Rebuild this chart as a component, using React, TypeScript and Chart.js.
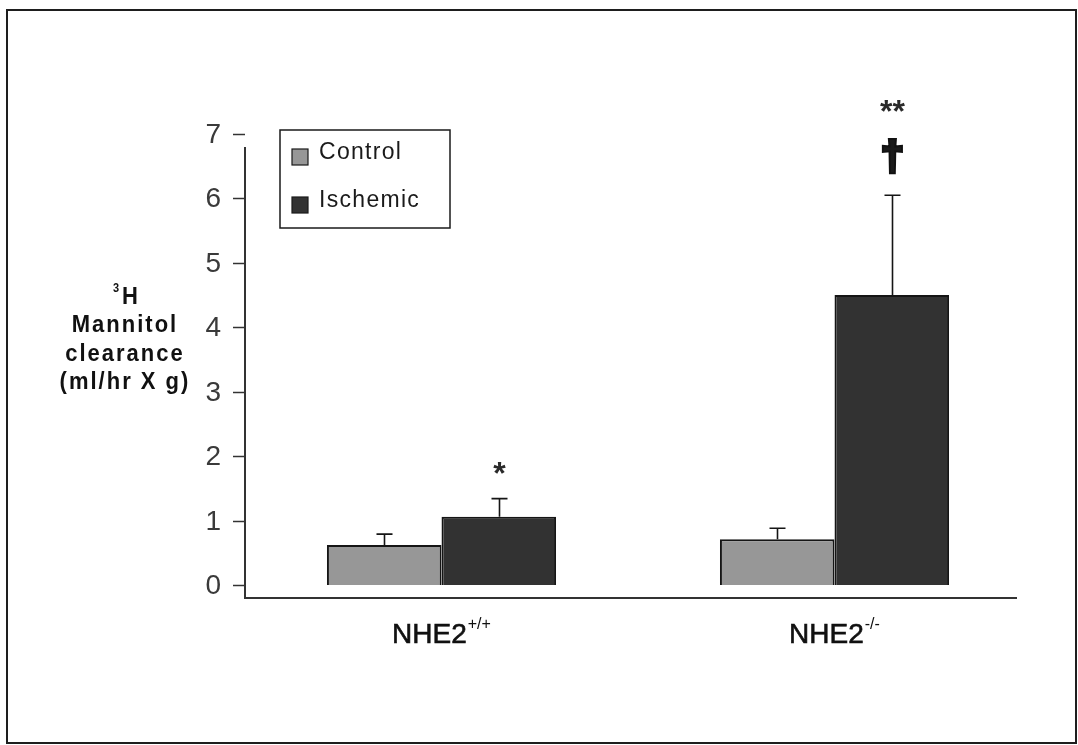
import React, { useEffect, useRef } from "react";
import { Chart, registerables } from "chart.js";

Chart.register(...registerables);

// ---- data ----
const categories = ["NHE2+/+", "NHE2-/-"];
const categoryBase = ["NHE2", "NHE2"];
const categorySup = ["+/+", "-/-"];
const seriesNames = ["Control", "Ischemic"];
const controlValues = [0.62, 0.71];
const ischemicValues = [1.06, 4.5];
const controlErrors = [0.17, 0.17];
const ischemicErrors = [0.28, 1.55];
const controlMarks = ["", ""];
const ischemicMarks = ["*", "**"];
const controlDaggers = ["", ""];
const ischemicDaggers = ["", "†"];
const yTicks = [0, 1, 2, 3, 4, 5, 6, 7];
const yTitleIsotope = "3";
const yTitleLines = ["H", "Mannitol", "clearance", "(ml/hr X g)"];

// ---- styles ----
const FONT = '"Liberation Sans", Arial, Helvetica, sans-serif';
const COLORS = ["#979797", "#323232"];
const EDGE = "#151515";

const errors = [controlErrors, ischemicErrors];
const marks = [controlMarks, ischemicMarks];
const daggers = [controlDaggers, ischemicDaggers];

function setSpacing(ctx: any, v: string) {
  try {
    ctx.letterSpacing = v;
  } catch (e) {}
}

const decorPlugin = {
  id: "decor",
  beforeDraw(chart: any) {
    const ctx = chart.ctx;
    ctx.save();
    ctx.fillStyle = "#ffffff";
    ctx.fillRect(0, 0, chart.width, chart.height);
    ctx.restore();
  },
  afterDatasetsDraw(chart: any) {
    const ctx = chart.ctx;
    const y = chart.scales.y;
    ctx.save();
    chart.data.datasets.forEach((ds: any, di: number) => {
      const meta = chart.getDatasetMeta(di);
      meta.data.forEach((bar: any, i: number) => {
        const v = ds.data[i];
        const err = errors[di][i];
        const top = y.getPixelForValue(v);
        const cap = y.getPixelForValue(v + err);
        const cx = Math.round(bar.x) + 0.5;
        ctx.strokeStyle = EDGE;
        ctx.lineWidth = 1.6;
        ctx.beginPath();
        ctx.moveTo(cx, top);
        ctx.lineTo(cx, cap);
        ctx.moveTo(cx - 8, cap);
        ctx.lineTo(cx + 8, cap);
        ctx.stroke();
        const m = marks[di][i];
        const dg = daggers[di][i];
        ctx.fillStyle = "#1a1a1a";
        ctx.textAlign = "center";
        ctx.textBaseline = "alphabetic";
        if (dg) {
          ctx.font = `bold 41px ${FONT}`;
          ctx.strokeStyle = "#111111";
          ctx.lineWidth = 3.8;
          ctx.lineJoin = "miter";
          ctx.strokeText(dg, cx, cap - 39 + 14);
          ctx.fillText(dg, cx, cap - 39 + 14);
        }
        if (m) {
          ctx.font = `bold 32px ${FONT}`;
          ctx.fillStyle = "#2a2a2a";
          const centerY = cap - (dg ? 92 : 34);
          ctx.fillText(m, cx, centerY + 19);
        }
      });
    });
    ctx.restore();
  },
  afterDraw(chart: any) {
    const ctx = chart.ctx;
    const { chartArea } = chart;
    const x = chart.scales.x;
    const y = chart.scales.y;
    ctx.save();
    // outer frame
    ctx.strokeStyle = "#1e1e1e";
    ctx.lineWidth = 2;
    ctx.strokeRect(7, 10, 1069, 733);

    // axes
    const axisX = chartArea.left;
    const zeroY = y.getPixelForValue(0);
    const axisBottom = zeroY + 13;
    const axisTop = y.getPixelForValue(yTicks[yTicks.length - 1]) + 13;
    ctx.strokeStyle = "#333333";
    ctx.lineWidth = 2;
    ctx.beginPath();
    ctx.moveTo(axisX, axisTop);
    ctx.lineTo(axisX, axisBottom);
    ctx.lineTo(chartArea.right - 14, axisBottom);
    ctx.stroke();

    // y ticks
    ctx.lineWidth = 1.5;
    ctx.fillStyle = "#3a3a3a";
    ctx.font = `28px ${FONT}`;
    ctx.textAlign = "right";
    ctx.textBaseline = "middle";
    yTicks.forEach((v) => {
      const py = Math.round(y.getPixelForValue(v)) + 0.5;
      ctx.beginPath();
      ctx.moveTo(axisX - 12, py);
      ctx.lineTo(axisX, py);
      ctx.stroke();
      ctx.fillText(String(v), axisX - 24, py + 1);
    });

    // y title (bold, spaced)
    ctx.fillStyle = "#111111";
    ctx.textAlign = "center";
    ctx.textBaseline = "middle";
    const titleX = 125;
    const lineYs = [297, 325, 354, 382];
    yTitleLines.forEach((t, i) => {
      ctx.save();
      ctx.translate(titleX + (i === 0 ? 6 : 0), lineYs[i]);
      ctx.scale(1, 1.08);
      ctx.font = `bold 22px ${FONT}`;
      setSpacing(ctx, "2px");
      ctx.fillText(t, 0, 0);
      if (i === 0) {
        const w = ctx.measureText(t).width;
        setSpacing(ctx, "0px");
        ctx.font = `bold 11px ${FONT}`;
        ctx.fillText(yTitleIsotope, -w / 2 - 6, -8);
      }
      setSpacing(ctx, "0px");
      ctx.restore();
    });

    // x labels
    categories.forEach((_, i) => {
      const cx = x.getPixelForValue(i);
      ctx.font = `28px ${FONT}`;
      const wb = ctx.measureText(categoryBase[i]).width;
      ctx.font = `16px ${FONT}`;
      const ws = ctx.measureText(categorySup[i]).width;
      const startX = cx - (wb + ws + 1) / 2;
      ctx.textAlign = "left";
      ctx.textBaseline = "alphabetic";
      ctx.fillStyle = "#111111";
      ctx.strokeStyle = "#111111";
      ctx.lineWidth = 0.6;
      ctx.font = `28px ${FONT}`;
      ctx.fillText(categoryBase[i], startX, 643);
      ctx.strokeText(categoryBase[i], startX, 643);
      ctx.font = `16px ${FONT}`;
      ctx.fillText(categorySup[i], startX + wb + 1, 629);
    });

    // legend
    ctx.strokeStyle = "#1a1a1a";
    ctx.lineWidth = 1.5;
    ctx.strokeRect(280, 130, 170, 98);
    const legendYs = [159, 207];
    seriesNames.forEach((name, i) => {
      ctx.fillStyle = COLORS[i];
      ctx.fillRect(292, legendYs[i] - 10, 16, 16);
      ctx.lineWidth = 1.2;
      ctx.strokeRect(292, legendYs[i] - 10, 16, 16);
      ctx.fillStyle = "#1a1a1a";
      ctx.font = `23px ${FONT}`;
      ctx.textAlign = "left";
      ctx.textBaseline = "alphabetic";
      setSpacing(ctx, "1.3px");
      ctx.fillText(name, 319, legendYs[i]);
      setSpacing(ctx, "0px");
    });
    ctx.restore();
  },
};

export default function App() {
  const canvasRef = useRef<HTMLCanvasElement | null>(null);
  useEffect(() => {
    if (!canvasRef.current) return;
    const chart = new Chart(canvasRef.current, {
      type: "bar",
      data: {
        labels: categories,
        datasets: [
          {
            label: seriesNames[0],
            data: controlValues,
            backgroundColor: COLORS[0],
            borderColor: EDGE,
            borderWidth: 2,
          },
          {
            label: seriesNames[1],
            data: ischemicValues,
            backgroundColor: COLORS[1],
            borderColor: EDGE,
            borderWidth: 2,
          },
        ],
      },
      options: {
        animation: false,
        responsive: false,
        maintainAspectRatio: false,
        layout: { padding: { left: 245, right: 47, top: 134, bottom: 160 } },
        datasets: { bar: { categoryPercentage: 0.583, barPercentage: 1 } },
        scales: {
          x: { display: false },
          y: { display: false, min: 0, max: 7 },
        },
        plugins: {
          legend: { display: false },
          tooltip: { enabled: false },
          title: { display: false },
        },
      },
      plugins: [decorPlugin],
    });
    return () => chart.destroy();
  }, []);
  return (
    <div style={{ position: "absolute", left: 0, top: 0, width: 1078, height: 745, background: "#fff" }}>
      <canvas ref={canvasRef} width={1078} height={745} style={{ display: "block", width: 1078, height: 745 }} />
    </div>
  );
}
